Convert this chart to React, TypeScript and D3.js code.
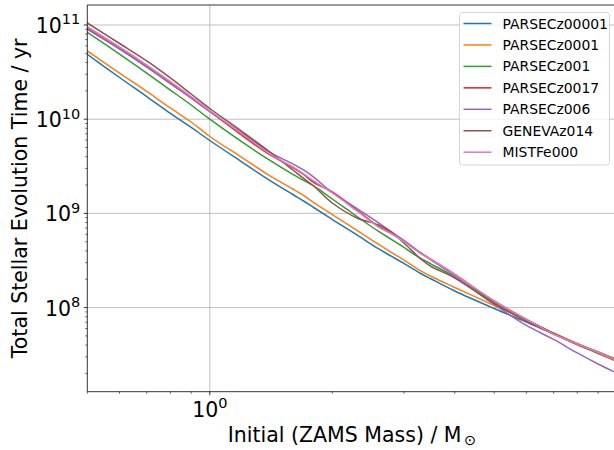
import React from "react";
import * as d3 from "d3";

const masses = [0.5, 0.6, 0.7, 0.8, 0.9, 1.0, 1.2, 1.4, 1.6, 1.7, 1.8, 2.0, 2.3, 2.6, 2.8, 3.0, 3.3, 3.5, 4.0, 5.0, 6.0, 7.0, 8.0, 9.0, 10];

const parsecZ00001 = [4.89e10, 2.77e10, 1.74e10, 1.15e10, 8.17e9, 5.94e9, 3.51e9, 2.26e9, 1.587e9, 1.354e9, 1.155e9, 8.61e8, 5.9e8, 4.19e8, 3.49e8, 2.94e8, 2.3e8, 2.01e8, 1.5e8, 9.78e7, 7.03e7, 5.24e7, 4.11e7, 3.38e7, 2.81e7];
const parsecZ0001 = [5.3e10, 3.09e10, 1.97e10, 1.315e10, 9.34e9, 6.55e9, 3.92e9, 2.53e9, 1.816e9, 1.549e9, 1.305e9, 9.73e8, 6.59e8, 4.68e8, 3.84e8, 3.2e8, 2.45e8, 2.14e8, 1.635e8, 1.053e8, 7.39e7, 5.38e7, 4.16e7, 3.38e7, 2.81e7];
const parsecZ001 = [8.37e10, 4.92e10, 3.09e10, 2.04e10, 1.415e10, 1.0e10, 5.73e9, 3.69e9, 2.59e9, 2.24e9, 1.954e9, 1.422e9, 9.27e8, 6.43e8, 5.28e8, 4.35e8, 3.32e8, 2.9e8, 2.11e8, 1.147e8, 7.39e7, 5.31e7, 4.06e7, 3.26e7, 2.68e7];
const parsecZ0017 = [9.23e10, 5.63e10, 3.63e10, 2.42e10, 1.68e10, 1.207e10, 6.71e9, 4.22e9, 3.07e9, 2.59e9, 2.13e9, 1.688e9, 1.087e9, 7.26e8, 6.12e8, 5.09e8, 3.8e8, 3.24e8, 2.25e8, 1.175e8, 7.48e7, 5.31e7, 4.11e7, 3.34e7, 2.71e7];
const parsecZ006 = [9.0e10, 5.56e10, 3.58e10, 2.39e10, 1.68e10, 1.207e10, 7.14e9, 4.49e9, 3.35e9, 2.89e9, 2.43e9, 1.667e9, 1.127e9, 7.91e8, 6.35e8, 5.16e8, 3.8e8, 3.2e8, 2.165e8, 1.079e8, 6.46e7, 4.59e7, 3.3e7, 2.52e7, 2.02e7];
const genevaZ014 = [1.05e11, 6.36e10, 4.15e10, 2.74e10, 1.85e10, 1.299e10, 7.4e9, 4.54e9, 2.89e9, 2.35e9, 1.954e9, 1.289e9, 8.94e8, 7.53e8, 6.27e8, 4.85e8, 3.28e8, 2.73e8, 2.06e8, 1.105e8, 7.21e7, 5.24e7, 4.06e7, 3.3e7, 2.71e7];
const mistFe000 = [9.59e10, 5.84e10, 3.76e10, 2.51e10, 1.74e10, 1.237e10, 6.96e9, 4.32e9, 3.11e9, 2.62e9, 2.21e9, 1.647e9, 1.061e9, 7.17e8, 6.04e8, 5.03e8, 3.75e8, 3.24e8, 2.25e8, 1.175e8, 7.48e7, 5.24e7, 4.11e7, 3.34e7, 2.71e7];

const seriesNames = ["PARSECz00001", "PARSECz0001", "PARSECz001", "PARSECz0017", "PARSECz006", "GENEVAz014", "MISTFe000"];
const seriesValues = [parsecZ00001, parsecZ0001, parsecZ001, parsecZ0017, parsecZ006, genevaZ014, mistFe000];
const colors = ["#1f77b4", "#ff7f0e", "#2ca02c", "#d62728", "#9467bd", "#8c564b", "#e377c2"];

const yMajorTicks = [1e8, 1e9, 1e10, 1e11];
const yMajorExp = ["8", "9", "10", "11"];
const xMajorTicks = [1];
const xMajorExp = ["0"];

const W = 614;
const H = 450;
const left = 87.3;
const right = 616.7;
const top = 5;
const bottom = 391.7;
const xDomain = [0.5, 10];
const yDomain = [1.28e7, 1.63e11];

export default function App() {
  const x = d3.scaleLog().domain(xDomain).range([left, right]);
  const y = d3.scaleLog().domain(yDomain).range([bottom, top]);

  const yMinor: number[] = [];
  for (let e = 7; e <= 11; e++) {
    for (let k = 2; k <= 9; k++) {
      const v = k * Math.pow(10, e);
      if (v >= yDomain[0] && v <= yDomain[1]) yMinor.push(v);
    }
  }
  const xMinor: number[] = [];
  for (let e = -1; e <= 0; e++) {
    for (let k = 2; k <= 9; k++) {
      const v = k * Math.pow(10, e);
      if (v >= xDomain[0] && v <= xDomain[1]) xMinor.push(v);
    }
  }

  const line = d3
    .line<number>()
    .x((_, i) => x(masses[i]))
    .y((d) => y(d))
    .curve(d3.curveCatmullRom.alpha(0.5));

  const font = "DejaVu Sans, sans-serif";
  const tickFs = 20.5;
  const supFs = 14.5;
  const legX = 459.5;
  const legY = 12.5;
  const legW = 150;
  const legH = 152.5;
  const rowH = 21.45;

  return (
    <svg
      width={W}
      height={H}
      style={{ position: "absolute", left: 0, top: 0, background: "#fff" }}
      fontFamily={font}
    >
      <defs>
        <clipPath id="plotclip">
          <rect x={left} y={top} width={right - left} height={bottom - top} />
        </clipPath>
      </defs>
      <rect x={0} y={0} width={W} height={H} fill="#fff" />
      {yMajorTicks.map((t) => (
        <line key={"gy" + t} x1={left} x2={right} y1={y(t)} y2={y(t)} stroke="#b0b0b0" strokeWidth={0.8} />
      ))}
      {xMajorTicks.map((t) => (
        <line key={"gx" + t} x1={x(t)} x2={x(t)} y1={top} y2={bottom} stroke="#b0b0b0" strokeWidth={0.8} />
      ))}
      <g clipPath="url(#plotclip)">
        {seriesValues.map((vals, i) => (
          <path key={seriesNames[i]} d={line(vals) || ""} fill="none" stroke={colors[i]} strokeWidth={1.5} strokeLinejoin="round" strokeLinecap="square" />
        ))}
      </g>
      <line x1={left} x2={left} y1={top} y2={bottom} stroke="#000" strokeWidth={0.8} />
      <line x1={left} x2={right} y1={bottom} y2={bottom} stroke="#000" strokeWidth={0.8} />
      <line x1={left} x2={right} y1={top} y2={top} stroke="#000" strokeWidth={0.8} />
      <line x1={right} x2={right} y1={top} y2={bottom} stroke="#000" strokeWidth={0.8} />
      {yMajorTicks.map((t) => (
        <line key={"ty" + t} x1={left - 3.5} x2={left} y1={y(t)} y2={y(t)} stroke="#000" strokeWidth={0.8} />
      ))}
      {yMinor.map((t) => (
        <line key={"tmy" + t} x1={left - 2} x2={left} y1={y(t)} y2={y(t)} stroke="#000" strokeWidth={0.6} />
      ))}
      {yMajorTicks.map((t, i) => (
        <text key={"ly" + t} x={left - 7} y={y(t) + 8} textAnchor="end" fontSize={tickFs} fill="#000">
          10
          <tspan fontSize={supFs} dy={-8.5}>{yMajorExp[i]}</tspan>
        </text>
      ))}
      {xMajorTicks.map((t) => (
        <line key={"tx" + t} x1={x(t)} x2={x(t)} y1={bottom} y2={bottom + 3.5} stroke="#000" strokeWidth={0.8} />
      ))}
      {xMinor.map((t) => (
        <line key={"tmx" + t} x1={x(t)} x2={x(t)} y1={bottom} y2={bottom + 2} stroke="#000" strokeWidth={0.6} />
      ))}
      {xMajorTicks.map((t, i) => (
        <text key={"lx" + t} x={x(t)} y={bottom + 25} textAnchor="middle" fontSize={tickFs} fill="#000">
          10
          <tspan fontSize={supFs} dy={-8.5}>{xMajorExp[i]}</tspan>
        </text>
      ))}
      <text x={(left + right) / 2} y={441.5} textAnchor="middle" fontSize={20.5} fill="#000">
        Initial (ZAMS Mass) / M
        <tspan fontSize={14.5} dy={3} dx={2.5}>⊙</tspan>
      </text>
      <text
        transform={`translate(26.5, ${(top + bottom) / 2}) rotate(-90)`}
        textAnchor="middle"
        fontSize={20.5}
        fill="#000"
      >
        Total Stellar Evolution Time / yr
      </text>
      <rect x={legX} y={legY} width={legW} height={legH} rx={3} ry={3} fill="#fff" fillOpacity={0.8} stroke="#cccccc" strokeWidth={0.8} />
      {seriesNames.map((n, i) => {
        const cy = legY + 11 + i * rowH;
        return (
          <g key={"leg" + n}>
            <line x1={legX + 4} x2={legX + 32} y1={cy} y2={cy} stroke={colors[i]} strokeWidth={1.5} />
            <text x={legX + 43} y={cy + 5} fontSize={13.9} fill="#000">
              {n}
            </text>
          </g>
        );
      })}
    </svg>
  );
}
